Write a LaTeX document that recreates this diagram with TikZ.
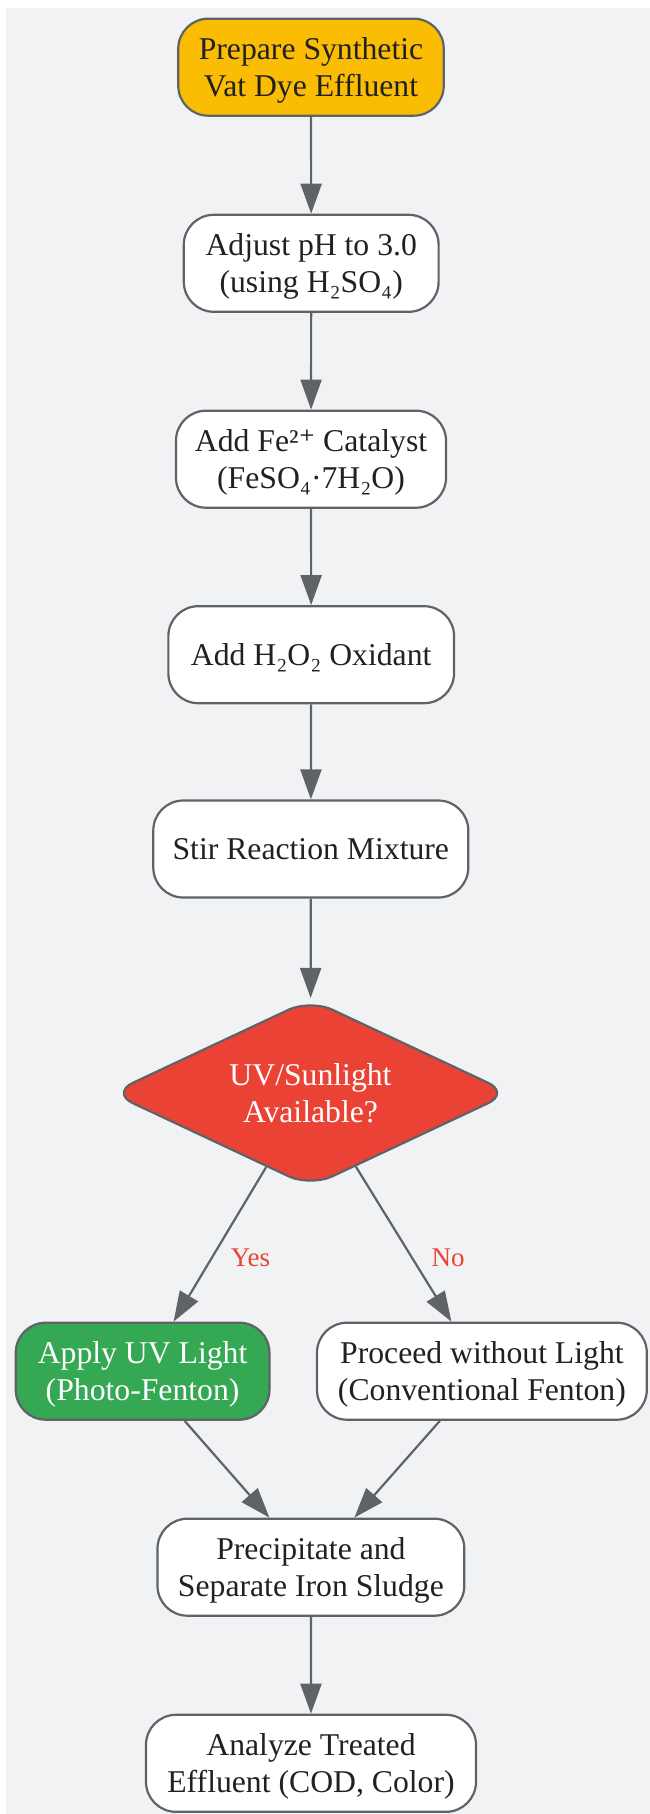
\documentclass[tikz,border=0pt]{standalone}
\usepackage{fontspec}
\setmainfont{Liberation Serif}
\newfontfamily\dvserif{DejaVu Serif}
\usetikzlibrary{arrows.meta,shapes.geometric}
\definecolor{bggray}{HTML}{F1F2F4}
\definecolor{edgegray}{HTML}{5F6368}
\definecolor{txt}{HTML}{202124}
\definecolor{gyellow}{HTML}{FBBC04}
\definecolor{ggreen}{HTML}{34A853}
\definecolor{gred}{HTML}{EA4335}
\newcommand\ls{\rule[-7.8pt]{0pt}{37pt}}
\tikzset{
  box/.style={draw=edgegray, line width=2.2pt, rounded corners=30pt, fill=white,
    minimum height=97pt, align=center, text=txt, inner sep=0pt,
    font=\fontsize{31.7pt}{37pt}\selectfont},
  decision/.style={shape=diamond, draw=edgegray, line width=2.2pt, rounded corners=24pt,
    fill=gred, minimum width=399.6pt, minimum height=188pt, aspect=2.125, inner sep=0pt,
    align=center, text=white, font=\fontsize{31.7pt}{37pt}\selectfont},
  flow/.style={draw=edgegray, line width=2.2pt, -{Triangle[length=30pt,width=21pt]}},
  edgelabel/.style={text=gred, font=\fontsize{27pt}{30pt}\selectfont, inner sep=0pt, anchor=base}
}
\begin{document}
\begin{tikzpicture}[x=1pt,y=-1pt]
\useasboundingbox (0,0) rectangle (650,1814);
\fill[bggray] (6,8) rectangle (650,1814);

\node[box, fill=gyellow, minimum width=265.5pt] (n1) at (311,67.2) {\ls Prepare Synthetic\\\ls Vat Dye Effluent};
\node[box, minimum width=254.8pt] (n2) at (311.2,263.3) {\ls Adjust pH to 3.0\\\ls (using H₂SO₄)};
\node[box, minimum width=270pt] (n3) at (311,459.2) {\ls Add Fe²{\dvserif ⁺} Catalyst\\\ls (FeSO₄·7H₂O)};
\node[box, minimum width=285.7pt] (n4) at (311.2,654.7) {\ls Add H₂O₂ Oxidant};
\node[box, minimum width=315pt] (n5) at (310.8,849) {\ls Stir Reaction Mixture};
\node[decision] (dec) at (310.5,1093) {\ls UV/Sunlight\\\ls Available?};
\node[box, fill=ggreen, text=white, minimum width=253.7pt] (apply) at (142.6,1371.2) {\ls Apply UV Light\\\ls (Photo-Fenton)};
\node[box, minimum width=329.8pt] (proc) at (481.9,1371.2) {\ls Proceed without Light\\\ls (Conventional Fenton)};
\node[box, minimum width=306.8pt] (prec) at (310.9,1567.2) {\ls Precipitate and\\\ls Separate Iron Sludge};
\node[box, minimum width=330pt] (ana) at (311,1763.3) {\ls Analyze Treated\\\ls Effluent (COD, Color)};

\draw[flow] (n1) -- (n2);
\draw[flow] (n2) -- (n3);
\draw[flow] (n3) -- (n4);
\draw[flow] (n4) -- (n5);
\draw[flow] (n5) -- (dec);
\draw[flow] (dec) -- ([xshift=31pt]apply.north);
\draw[flow] (dec) -- ([xshift=-30.5pt]proc.north);
\draw[flow] ([xshift=42pt]apply.south) -- ([xshift=-41.5pt]prec.north);
\draw[flow] ([xshift=-42pt]proc.south) -- ([xshift=43.5pt]prec.north);
\draw[flow] (prec) -- (ana);

\node[edgelabel] (yes) at (250.5,1266.7) {Yes};
\node[edgelabel] (no) at (448,1266.7) {No};
\end{tikzpicture}
\end{document}
